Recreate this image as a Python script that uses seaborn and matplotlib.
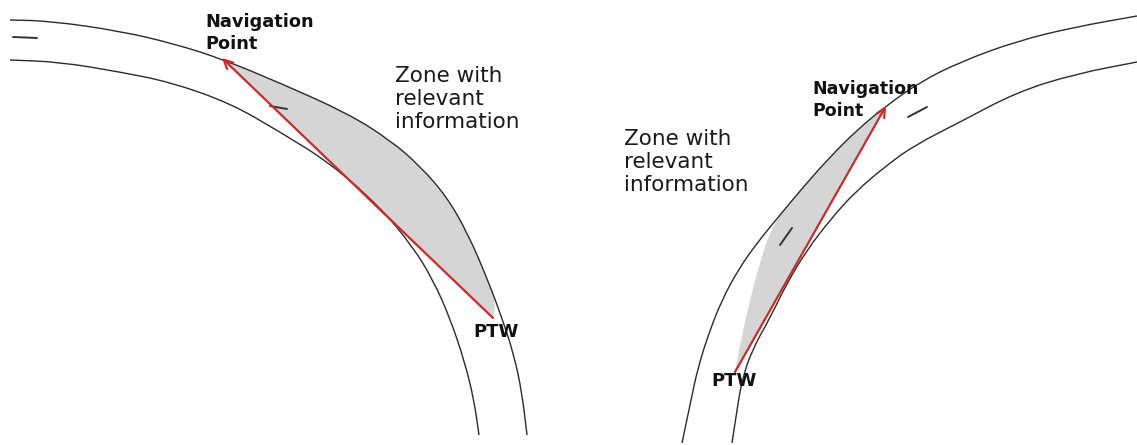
import matplotlib
matplotlib.use("Agg")
import matplotlib.pyplot as plt
from matplotlib.path import Path
from matplotlib.patches import PathPatch
import seaborn as sns

# road edges, pixel coords (y grows downwards)
left_outer_x = [10, 50, 120, 175, 222, 280, 347, 390, 420, 447, 468, 487, 502, 514, 522, 527]
left_outer_y = [20, 21, 31, 44, 59, 83, 113, 140, 166, 197, 234, 278, 318, 355, 393, 435]
left_inner_x = [10, 60, 120, 170, 230, 280, 330, 380, 413, 433, 450, 465, 474, 479]
left_inner_y = [60, 62, 72, 82, 103, 132, 163, 207, 247, 280, 318, 363, 400, 435]

right_outer_x = [682, 690, 698, 710, 722, 738, 757, 780, 805, 830, 857, 886, 920, 960, 1017, 1075, 1137]
right_outer_y = [443, 405, 367, 330, 300, 270, 243, 215, 185, 157, 130, 106, 82, 62, 41, 27, 16]
right_inner_x = [732, 737, 742, 752, 770, 787, 807, 830, 855, 887, 915, 960, 1017, 1075, 1137]
right_inner_y = [443, 410, 380, 350, 318, 283, 250, 220, 192, 165, 145, 122, 92, 74, 62]

# shaded zones (outer edge from navigation point down to the PTW)
left_zone_x = [222, 280, 347, 390, 420, 447, 468, 487, 496, 493]
left_zone_y = [59, 83, 113, 140, 166, 197, 234, 278, 302, 318]
right_zone_x = [886, 857, 830, 805, 780, 770, 760, 750, 741, 735]
right_zone_y = [107, 130, 157, 185, 215, 232, 262, 300, 340, 372]

# PTW -> navigation point
left_ptw = (493, 318)
left_nav = (222, 58)
right_ptw = (735, 372)
right_nav = (886, 106)

# lane marks
dashes = [
    ([13, 37], [37, 38]),
    ([270, 287], [106, 109]),
    ([908, 927], [117, 107]),
    ([780, 792], [245, 228]),
]

nav_label = "Navigation\nPoint"
zone_label = "Zone with\nrelevant\ninformation"
ptw_label = "PTW"

sns.set_theme(style="white")
plt.rcParams["font.family"] = ["DejaVu Sans"]

line_col = "#2b2b2b"
red = "#cc2a2a"
gray = "#d5d5d5"


def smooth(xs, ys):
    # quadratic bezier through the midpoints, control points = read points
    pts = list(zip(xs, ys))
    verts = [pts[0]]
    codes = [Path.MOVETO]
    mid = ((pts[0][0] + pts[1][0]) / 2, (pts[0][1] + pts[1][1]) / 2)
    verts.append(mid)
    codes.append(Path.LINETO)
    for i in range(1, len(pts) - 1):
        nxt = ((pts[i][0] + pts[i + 1][0]) / 2, (pts[i][1] + pts[i + 1][1]) / 2)
        verts += [pts[i], nxt]
        codes += [Path.CURVE3, Path.CURVE3]
    verts.append(pts[-1])
    codes.append(Path.LINETO)
    return verts, codes


fig = plt.figure(figsize=(11.37, 4.45), dpi=100)
ax = fig.add_axes([0, 0, 1, 1])

for xs, ys in [(left_zone_x, left_zone_y), (right_zone_x, right_zone_y)]:
    v, c = smooth(xs, ys)
    v.append(v[0])
    c.append(Path.CLOSEPOLY)
    ax.add_patch(PathPatch(Path(v, c), facecolor=gray, lw=0, zorder=1))

for xs, ys in [(left_outer_x, left_outer_y), (left_inner_x, left_inner_y),
               (right_outer_x, right_outer_y), (right_inner_x, right_inner_y)]:
    v, c = smooth(xs, ys)
    ax.add_patch(PathPatch(Path(v, c), facecolor="none", edgecolor=line_col,
                           lw=1.0, zorder=2))

for xs, ys in dashes:
    sns.lineplot(x=xs, y=ys, sort=False, estimator=None, color="#333333",
                 lw=1.4, ax=ax, zorder=2)

for ptw, nav in [(left_ptw, left_nav), (right_ptw, right_nav)]:
    ax.annotate("", xy=nav, xytext=ptw, zorder=3,
                arrowprops=dict(arrowstyle="->", color=red, lw=1.6,
                                shrinkA=0, shrinkB=0, mutation_scale=16))

ax.text(205, 33, nav_label, ha="left", va="center", fontsize=12.8,
        fontweight="bold", color="#111111", linespacing=1.25, zorder=4)
ax.text(812, 100, nav_label, ha="left", va="center", fontsize=12.5,
        fontweight="bold", color="#111111", linespacing=1.35, zorder=4)

ax.text(395, 99, zone_label, ha="left", va="center", fontsize=15.5,
        color="#1a1a1a", linespacing=1.2, zorder=4)
ax.text(624, 162, zone_label, ha="left", va="center", fontsize=15.5,
        color="#1a1a1a", linespacing=1.2, zorder=4)

ax.text(496, 332, ptw_label, ha="center", va="center", fontsize=13,
        fontweight="bold", color="#111111", zorder=4)
ax.text(734, 381, ptw_label, ha="center", va="center", fontsize=13,
        fontweight="bold", color="#111111", zorder=4)

ax.set_xlim(0, 1137)
ax.set_ylim(445, 0)
ax.set_axis_off()

fig.savefig("out.png", dpi=100, facecolor="white")
